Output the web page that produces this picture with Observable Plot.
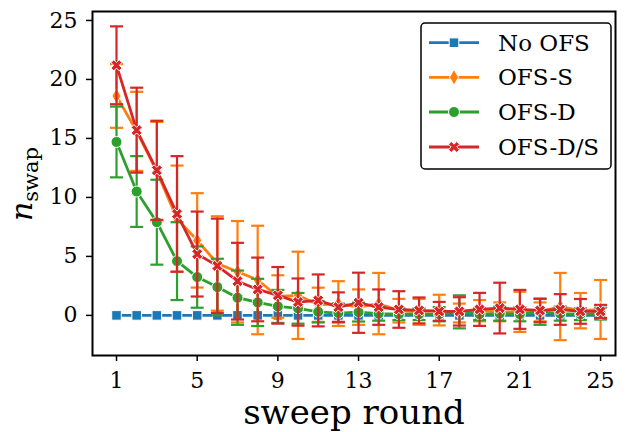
<!DOCTYPE html>
<html><head><meta charset="utf-8">
<script src="https://cdn.jsdelivr.net/npm/d3@7"></script>
<script src="https://cdn.jsdelivr.net/npm/@observablehq/plot@0.6"></script>
<style>body{margin:0;background:#fff}</style>
</head><body><div id="chart"></div>
<script>
// ---- data ----
const rounds = [1,2,3,4,5,6,7,8,9,10,11,12,13,14,15,16,17,18,19,20,21,22,23,24,25];
const seriesNames = ["No OFS","OFS-S","OFS-D","OFS-D/S"];
const noOfsMean = [0,0,0,0,0,0,0,0,0,0,0,0,0,0,0,0,0,0,0,0,0,0,0,0,0];
const noOfsErr  = [0,0,0,0,0,0,0,0,0,0,0,0,0,0,0,0,0,0,0,0,0,0,0,0,0];
const ofsSMean  = [18.6,15.6,12.2,8.2,6.36,4.4,3.7,3.0,1.6,1.7,0.9,1.0,0.7,1.0,0.4,0.3,0.45,0.2,0.4,0.3,0.3,0.3,0.75,0.4,0.5];
const ofsSErr   = [2.7,3.35,4.2,4.5,4.0,4.0,4.3,4.6,1.8,3.7,1.45,1.9,1.5,2.6,1.0,1.1,1.3,0.8,0.9,0.8,1.7,0.8,2.85,1.5,2.5];
const ofsDMean  = [14.7,10.5,7.9,4.6,3.25,2.4,1.5,1.1,0.76,0.6,0.3,0.2,0.28,0.15,0.1,0.1,0.1,0.3,0.1,0.15,0.1,0.3,0.15,0.1,0.15];
const ofsDErr   = [3.0,3.0,3.6,3.3,2.6,2.4,2.3,2.0,1.4,1.3,0.9,0.8,0.8,0.6,0.5,0.5,0.6,1.4,0.5,0.6,0.6,1.1,0.6,0.5,0.5];
const ofsDSMean = [21.2,15.7,12.3,8.6,5.2,4.2,2.9,2.2,1.7,1.13,1.27,0.7,1.07,0.7,0.5,0.42,0.34,0.34,0.51,0.62,0.51,0.42,0.5,0.34,0.34];
const ofsDSErr  = [3.3,3.6,4.2,4.9,3.6,4.0,3.25,2.7,2.4,2.0,2.2,1.25,2.55,1.5,1.55,1.1,0.8,1.2,1.4,2.15,1.65,1.0,1.3,1.05,0.55];
const xTicks = [1,5,9,13,17,21,25];
const yTicks = [0,5,10,15,20,25];

// ---- styles ----
const colors = ["#1f77b4","#ff7f0e","#2ca02c","#d62728"];
const capSymbol = {draw(ctx, size){ const w = Math.sqrt(size/Math.PI); ctx.moveTo(-w,0); ctx.lineTo(w,0); }};
const xSymbol = {draw(ctx, size){
  const r = Math.sqrt(size)*0.55, w = r*0.34, c = Math.SQRT1_2;
  const pts = [[-w,-r],[w,-r],[w,-w],[r,-w],[r,w],[w,w],[w,r],[-w,r],[-w,w],[-r,w],[-r,-w],[-w,-w]];
  pts.forEach(([x,y],i)=>{ const px=(x-y)*c, py=(x+y)*c; i?ctx.lineTo(px,py):ctx.moveTo(px,py); });
  ctx.closePath();
}};
const symbols = [d3.symbolSquare, d3.symbolDiamond, d3.symbolCircle, xSymbol];
const radii = [5.4, 4.8, 5.5, 6];

const means = [noOfsMean, ofsSMean, ofsDMean, ofsDSMean];
const errs = [noOfsErr, ofsSErr, ofsDErr, ofsDSErr];

const marks = [];
seriesNames.forEach((name, k) => {
  const data = rounds.map((r,i)=>({round:r, mean:means[k][i], err:errs[k][i]}));
  const eb = data.filter(d=>d.err>0);
  marks.push(Plot.ruleX(eb,{x:"round", y1:d=>d.mean-d.err, y2:d=>d.mean+d.err, stroke:colors[k], strokeWidth:2.2}));
  marks.push(Plot.dot(eb,{x:"round", y:d=>d.mean+d.err, symbol:capSymbol, r:6.5, stroke:colors[k], strokeWidth:2.2, fill:"none"}));
  marks.push(Plot.dot(eb,{x:"round", y:d=>d.mean-d.err, symbol:capSymbol, r:6.5, stroke:colors[k], strokeWidth:2.2, fill:"none"}));
  marks.push(Plot.line(data,{x:"round", y:"mean", stroke:colors[k], strokeWidth:2.8}));
  marks.push(Plot.dot(data,{x:"round", y:"mean", symbol:symbols[k], r:radii[k], fill:colors[k], stroke:"white", strokeWidth:1}));
});
marks.push(Plot.axisX({ticks:xTicks, tickSize:6, tickPadding:11, strokeWidth:1.5, label:null, tickFormat:d=>String(d)}));
marks.push(Plot.axisY({ticks:yTicks, tickSize:6, tickPadding:9, strokeWidth:1.5, label:null, tickFormat:d=>String(d)}));
marks.push(Plot.frame({stroke:"black", strokeWidth:2}));

const svg = Plot.plot({
  width:631, height:432,
  marginLeft:92, marginRight:16, marginTop:11, marginBottom:77,
  x:{domain:[-0.19,25.74]},
  y:{domain:[-3.4,25.76]},
  style:{fontFamily:"DejaVu Serif", fontSize:"22px", color:"black", background:"white"},
  marks
});
document.getElementById("chart").appendChild(svg);

const s = d3.select(svg);
// x label
s.append("text").attr("x",354).attr("y",424).attr("text-anchor","middle")
  .attr("font-family","DejaVu Serif").attr("font-size",34).attr("fill","black").text("sweep round");
// y label
const yl = s.append("text").attr("transform","translate(32,184) rotate(-90)").attr("text-anchor","middle")
  .attr("font-family","DejaVu Serif").attr("fill","black");
yl.append("tspan").attr("font-style","italic").attr("font-size",30).text("n");
yl.append("tspan").attr("font-size",21).attr("dy",6).text("swap");

// legend
const lg = s.append("g");
lg.append("rect").attr("x",421).attr("y",23).attr("width",190).attr("height",146).attr("rx",4)
  .attr("fill","white").attr("stroke","black").attr("stroke-width",1.5);
const rowY = [42.7,77.3,112,147];
seriesNames.forEach((name,k)=>{
  const g = lg.append("g");
  g.append("line").attr("x1",429).attr("x2",479).attr("y1",rowY[k]).attr("y2",rowY[k]).attr("stroke",colors[k]).attr("stroke-width",2.8);
  g.append("path").attr("transform",`translate(454,${rowY[k]})`)
    .attr("d", d3.symbol(symbols[k], Math.PI*radii[k]*radii[k])()).attr("fill",colors[k]).attr("stroke","white").attr("stroke-width",1);
  g.append("text").attr("x",498).attr("y",rowY[k]).attr("dy","0.35em").attr("text-anchor","start").attr("font-family","DejaVu Serif")
    .attr("font-size",23).attr("fill","black").text(name);
});
</script></body></html>
